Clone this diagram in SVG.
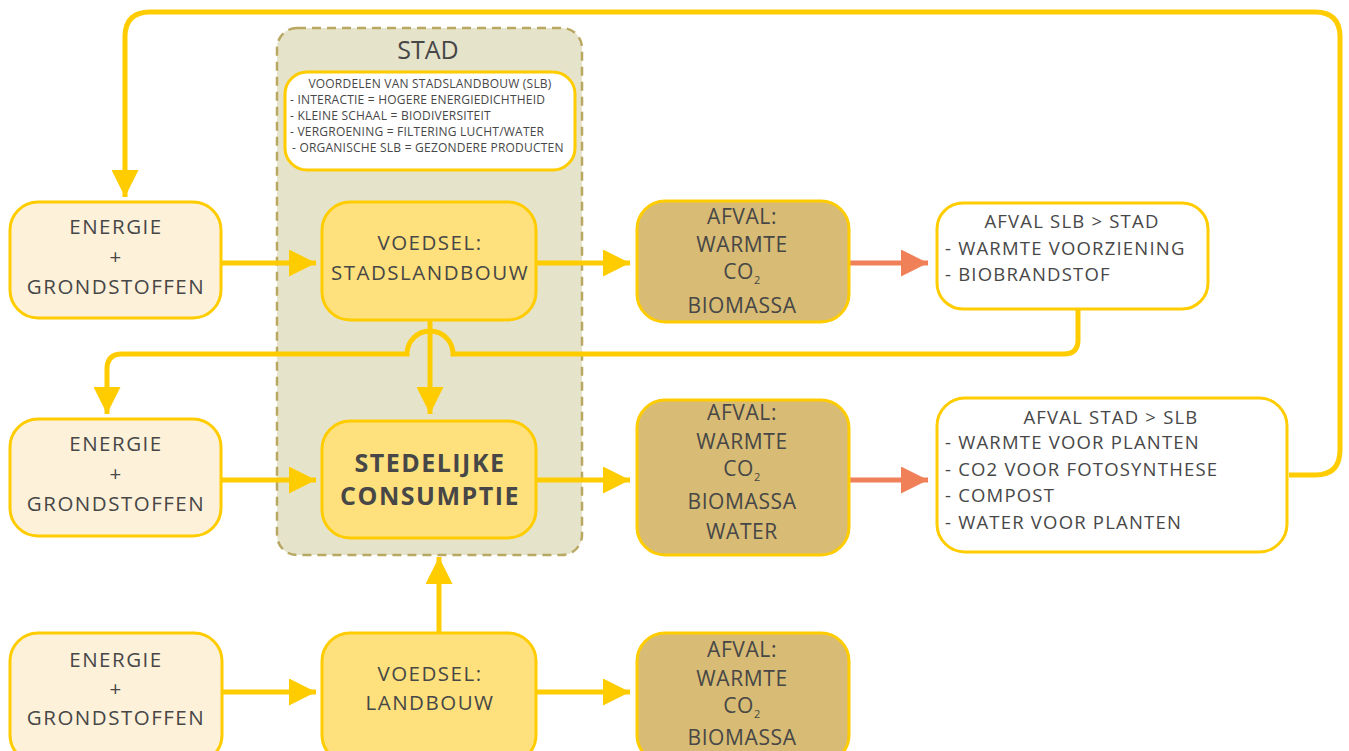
<svg xmlns="http://www.w3.org/2000/svg" width="1349" height="751" viewBox="0 0 1349 751">
<defs>
<marker id="ay" viewBox="0 0 10 10" refX="10" refY="5" markerWidth="5.6" markerHeight="5.4" markerUnits="strokeWidth" orient="auto"><path d="M0,0 L10,5 L0,10 z" fill="#ffcc00"/></marker>
<marker id="ao" viewBox="0 0 10 10" refX="10" refY="5" markerWidth="5.6" markerHeight="5.4" markerUnits="strokeWidth" orient="auto"><path d="M0,0 L10,5 L0,10 z" fill="#f08058"/></marker>
<style>
text{font-family:"Open Sans","Liberation Sans",sans-serif;fill:#474747;text-anchor:middle}
.b{stroke:#ffcc00;stroke-width:3}
.e{fill:#fdf1da}
.v{fill:#fee17c}
.a{fill:#d8bb74}
.w{fill:#ffffff}
.t{font-size:20.5px;letter-spacing:1.5px}
.f{font-size:21px;letter-spacing:0.6px}
.s{font-size:18.5px;letter-spacing:1.2px}
.l{text-anchor:start}
.c{fill:none;stroke:#ffcc00;stroke-width:5}
.o{fill:none;stroke:#f08058;stroke-width:5}
.sm{font-size:12px;letter-spacing:0.22px}
</style>
</defs>
<g id="stad">
<rect x="277" y="28" width="305" height="527" rx="20" fill="#e6e3cb" stroke="#b9a862" stroke-width="2.5" stroke-dasharray="9,6"/>
<text x="428" y="59" font-size="25">STAD</text>
</g>
<g id="voordelen">
<rect x="285" y="72" width="290" height="98" rx="22" class="w b"/>
<text x="430" y="88" class="sm">VOORDELEN VAN STADSLANDBOUW (SLB)</text>
<text x="290" y="104" class="sm l">- INTERACTIE = HOGERE ENERGIEDICHTHEID</text>
<text x="290" y="120" class="sm l">- KLEINE SCHAAL = BIODIVERSITEIT</text>
<text x="290" y="136" class="sm l">- VERGROENING = FILTERING LUCHT/WATER</text>
<text x="292" y="152" class="sm l">- ORGANISCHE SLB = GEZONDERE PRODUCTEN</text>
</g>
<g id="connectors">
<path class="c" d="M1289,475 H1315 Q1340,475 1340,450 V37 Q1340,12 1315,12 H150 Q125,12 125,37 V197" marker-end="url(#ay)"/>
<path class="c" d="M221,263 H316" marker-end="url(#ay)"/>
<path class="c" d="M536,263 H630" marker-end="url(#ay)"/>
<path class="o" d="M849,263 H928" marker-end="url(#ao)"/>
<path class="c" d="M430,320 V414" marker-end="url(#ay)"/>
<path class="c" d="M1078,309 V340 Q1078,354 1064,354 H453 A11.5,11.5 0 0 0 407,354 H122 Q107,354 107,369 V414" marker-end="url(#ay)"/>
<path class="c" d="M221,480 H316" marker-end="url(#ay)"/>
<path class="c" d="M536,480 H630" marker-end="url(#ay)"/>
<path class="o" d="M849,480 H928" marker-end="url(#ao)"/>
<path class="c" d="M439,633 V557" marker-end="url(#ay)"/>
<path class="c" d="M222,692 H316" marker-end="url(#ay)"/>
<path class="c" d="M536,692 H630" marker-end="url(#ay)"/>
</g>
<g id="energie1">
<rect x="10" y="202" width="211" height="116" rx="28" class="e b"/>
<text x="116" y="234" class="t">ENERGIE</text>
<text x="116" y="264" class="t">+</text>
<text x="116" y="294" class="t">GRONDSTOFFEN</text>
</g>
<g id="voedsel-slb">
<rect x="322" y="202" width="214" height="118" rx="28" class="v b"/>
<text x="430" y="250" class="t">VOEDSEL:</text>
<text x="430" y="280" class="t">STADSLANDBOUW</text>
</g>
<g id="afval1">
<rect x="637" y="201" width="212" height="121" rx="28" class="a b"/>
<text x="742" y="224" class="f">AFVAL:</text>
<text x="742" y="252" class="f">WARMTE</text>
<text x="742" y="279" class="f">CO<tspan font-size="11" dy="5">2</tspan></text>
<text x="742" y="313" class="f">BIOMASSA</text>
</g>
<g id="afval-slb-stad">
<rect x="937" y="203" width="271" height="106" rx="26" class="w b"/>
<text x="1072" y="228" class="s">AFVAL SLB &gt; STAD</text>
<text x="945" y="255" class="s l">- WARMTE VOORZIENING</text>
<text x="945" y="281" class="s l">- BIOBRANDSTOF</text>
</g>
<g id="energie2">
<rect x="10" y="419" width="211" height="117" rx="28" class="e b"/>
<text x="116" y="451" class="t">ENERGIE</text>
<text x="116" y="481" class="t">+</text>
<text x="116" y="511" class="t">GRONDSTOFFEN</text>
</g>
<g id="stedelijke">
<rect x="322" y="421" width="214" height="117" rx="28" class="v b"/>
<text x="430" y="472" font-size="25" font-weight="bold" letter-spacing="1.5">STEDELIJKE</text>
<text x="430" y="505" font-size="25" font-weight="bold" letter-spacing="1.5">CONSUMPTIE</text>
</g>
<g id="afval2">
<rect x="637" y="400" width="212" height="155" rx="28" class="a b"/>
<text x="742" y="420" class="f">AFVAL:</text>
<text x="742" y="449" class="f">WARMTE</text>
<text x="742" y="476" class="f">CO<tspan font-size="11" dy="5">2</tspan></text>
<text x="742" y="509" class="f">BIOMASSA</text>
<text x="742" y="539" class="f">WATER</text>
</g>
<g id="afval-stad-slb">
<rect x="937" y="398" width="350" height="154" rx="28" class="w b"/>
<text x="1111" y="424" class="s">AFVAL STAD &gt; SLB</text>
<text x="945" y="449" class="s l">- WARMTE VOOR PLANTEN</text>
<text x="945" y="476" class="s l">- CO2 VOOR FOTOSYNTHESE</text>
<text x="945" y="502" class="s l">- COMPOST</text>
<text x="945" y="529" class="s l">- WATER VOOR PLANTEN</text>
</g>
<g id="energie3">
<rect x="10" y="633" width="212" height="130" rx="28" class="e b"/>
<text x="116" y="667" class="t">ENERGIE</text>
<text x="116" y="696" class="t">+</text>
<text x="116" y="725" class="t">GRONDSTOFFEN</text>
</g>
<g id="voedsel-lb">
<rect x="322" y="633" width="214" height="130" rx="28" class="v b"/>
<text x="430" y="681" class="t">VOEDSEL:</text>
<text x="430" y="710" class="t">LANDBOUW</text>
</g>
<g id="afval3">
<rect x="637" y="633" width="212" height="130" rx="28" class="a b"/>
<text x="742" y="657" class="f">AFVAL:</text>
<text x="742" y="686" class="f">WARMTE</text>
<text x="742" y="713" class="f">CO<tspan font-size="11" dy="5">2</tspan></text>
<text x="742" y="745" class="f">BIOMASSA</text>
</g>
</svg>
